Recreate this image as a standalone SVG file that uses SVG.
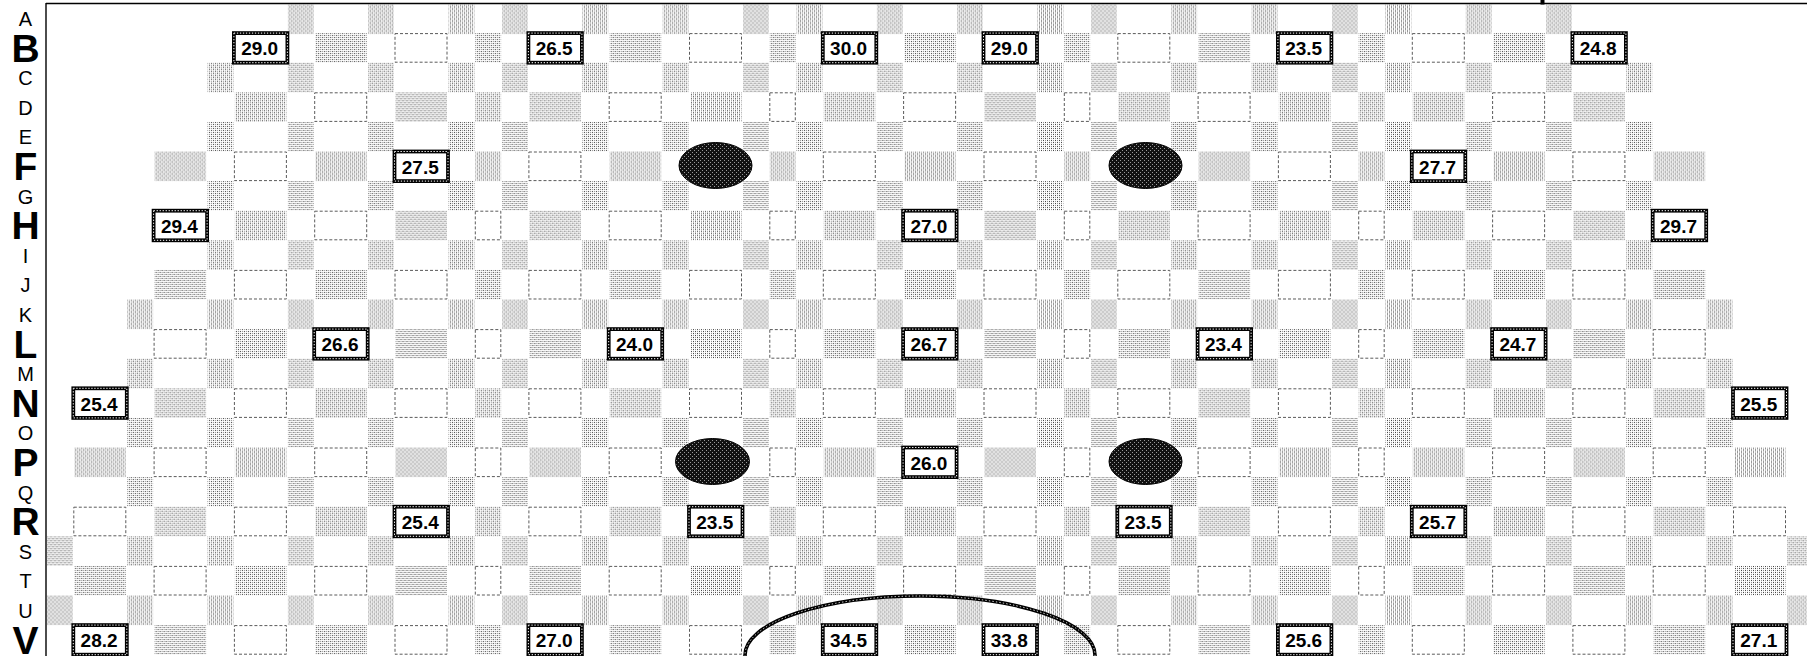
<svg xmlns="http://www.w3.org/2000/svg" xmlns:xlink="http://www.w3.org/1999/xlink" width="1807" height="656" viewBox="0 0 1807 656">
<style>
.dash{fill:none;stroke:#5a5a5a;stroke-width:1;stroke-dasharray:3 2}
.lbl rect{fill:#fff;stroke:#000;stroke-width:3.8}
.lbl rect.lw{fill:none;stroke:#fff;stroke-width:1;stroke-dasharray:1.3 1.7}
.lbl text{font-family:"Liberation Sans",Arial,sans-serif;font-weight:bold;font-size:19px;text-anchor:middle;fill:#000}
.rl{font-family:"Liberation Sans",Arial,sans-serif;font-size:20px;text-anchor:middle;fill:#000}
.rb{font-family:"Liberation Sans",Arial,sans-serif;font-size:39px;font-weight:bold;text-anchor:middle;fill:#000}
.blob{fill:url(#dk);stroke:#000;stroke-width:1}
</style>
<defs>
<pattern id="dots" width="4" height="4" patternUnits="userSpaceOnUse"><rect width="4" height="4" fill="#fff"/><rect width="1" height="1" fill="#333"/><rect x="2" y="2" width="1" height="1" fill="#333"/><rect x="2" width="1" height="1" fill="#888"/><rect y="2" width="1" height="1" fill="#888"/></pattern>
<pattern id="dk" width="4" height="4" patternUnits="userSpaceOnUse"><rect width="4" height="4" fill="#111"/><rect width="1" height="1" fill="#999"/><rect x="2" y="2" width="1" height="1" fill="#999"/></pattern>
<rect id="wg" x="1" y="0" width="51.5" height="29.6" fill="url(#dots)"/>
<rect id="ng" x="0.5" y="0" width="25.8" height="29.6" fill="url(#dots)"/>
<rect id="wd" class="dash" x="0.5" y="0.5" width="52" height="28.6"/>
<rect id="nd" class="dash" x="0.5" y="0.5" width="25.5" height="28.6"/>
<g id="oc"><use href="#ng" x="287.4"/><use href="#ng" x="367.7"/><use href="#ng" x="448.1"/><use href="#ng" x="501.6"/><use href="#ng" x="581.9"/><use href="#ng" x="662.2"/><use href="#ng" x="742.5"/><use href="#ng" x="796.1"/><use href="#ng" x="876.4"/><use href="#ng" x="956.7"/><use href="#ng" x="1037"/><use href="#ng" x="1090.5"/><use href="#ng" x="1170.8"/><use href="#ng" x="1251.2"/><use href="#ng" x="1331.5"/><use href="#ng" x="1385"/><use href="#ng" x="1465.3"/><use href="#ng" x="1545.6"/></g>
<g id="o6"><use href="#ng" x="207.1"/><use href="#ng" x="1625.9"/></g>
<g id="o3"><use href="#ng" x="126.8"/><use href="#ng" x="1706.2"/></g>
<g id="o0"><use href="#ng" x="46.5"/><use href="#ng" x="1786.6"/></g>
</defs>
<rect width="1807" height="656" fill="#fff"/>

<g id="odd-rows">
<use href="#oc" y="4.5"/>
<use href="#oc" y="62.7"/><use href="#o6" y="62.7"/>
<use href="#oc" y="121.9"/><use href="#o6" y="121.9"/>
<use href="#oc" y="181.1"/><use href="#o6" y="181.1"/>
<use href="#oc" y="240.3"/><use href="#o6" y="240.3"/>
<use href="#oc" y="299.5"/><use href="#o6" y="299.5"/><use href="#o3" y="299.5"/>
<use href="#oc" y="358.7"/><use href="#o6" y="358.7"/><use href="#o3" y="358.7"/>
<use href="#oc" y="417.9"/><use href="#o6" y="417.9"/><use href="#o3" y="417.9"/>
<use href="#oc" y="477.1"/><use href="#o6" y="477.1"/><use href="#o3" y="477.1"/>
<use href="#oc" y="536.3"/><use href="#o6" y="536.3"/><use href="#o3" y="536.3"/><use href="#o0" y="536.3"/>
<use href="#oc" y="595.5"/><use href="#o6" y="595.5"/><use href="#o3" y="595.5"/><use href="#o0" y="595.5"/>
</g>

<g id="row-B">
<use href="#wg" x="314.2" y="33.1"/><use href="#wd" x="394.5" y="33.1"/><use href="#ng" x="474.8" y="33.1"/><use href="#wg" x="608.7" y="33.1"/><use href="#wd" x="689" y="33.1"/><use href="#ng" x="769.3" y="33.1"/><use href="#wg" x="903.1" y="33.1"/><use href="#ng" x="1063.8" y="33.1"/><use href="#wd" x="1117.3" y="33.1"/><use href="#wg" x="1197.6" y="33.1"/><use href="#ng" x="1358.2" y="33.1"/><use href="#wd" x="1411.8" y="33.1"/><use href="#wg" x="1492.1" y="33.1"/>
<g id="lbl-B7" class="lbl"><rect x="233.9" y="33.1" width="53.5" height="29.6"/><rect class="lw" x="233.9" y="33.1" width="53.5" height="29.6"/><text x="259.7" y="55.3">29.0</text></g>
<g id="lbl-B18" class="lbl"><rect x="528.4" y="33.1" width="53.5" height="29.6"/><rect class="lw" x="528.4" y="33.1" width="53.5" height="29.6"/><text x="554.2" y="55.3">26.5</text></g>
<g id="lbl-B29" class="lbl"><rect x="822.8" y="33.1" width="53.5" height="29.6"/><rect class="lw" x="822.8" y="33.1" width="53.5" height="29.6"/><text x="848.6" y="55.3">30.0</text></g>
<g id="lbl-B35" class="lbl"><rect x="983.5" y="33.1" width="53.5" height="29.6"/><rect class="lw" x="983.5" y="33.1" width="53.5" height="29.6"/><text x="1009.3" y="55.3">29.0</text></g>
<g id="lbl-B46" class="lbl"><rect x="1277.9" y="33.1" width="53.5" height="29.6"/><rect class="lw" x="1277.9" y="33.1" width="53.5" height="29.6"/><text x="1303.7" y="55.3">23.5</text></g>
<g id="lbl-B57" class="lbl"><rect x="1572.4" y="33.1" width="53.5" height="29.6"/><rect class="lw" x="1572.4" y="33.1" width="53.5" height="29.6"/><text x="1598.2" y="55.3">24.8</text></g>
</g>

<g id="row-D">
<use href="#wg" x="233.9" y="92.3"/><use href="#wd" x="314.2" y="92.3"/><use href="#wg" x="394.5" y="92.3"/><use href="#ng" x="474.8" y="92.3"/><use href="#wg" x="528.4" y="92.3"/><use href="#wd" x="608.7" y="92.3"/><use href="#wg" x="689" y="92.3"/><use href="#nd" x="769.3" y="92.3"/><use href="#wg" x="822.8" y="92.3"/><use href="#wd" x="903.1" y="92.3"/><use href="#wg" x="983.5" y="92.3"/><use href="#nd" x="1063.8" y="92.3"/><use href="#wg" x="1117.3" y="92.3"/><use href="#wd" x="1197.6" y="92.3"/><use href="#wg" x="1277.9" y="92.3"/><use href="#ng" x="1358.2" y="92.3"/><use href="#wg" x="1411.8" y="92.3"/><use href="#wd" x="1492.1" y="92.3"/><use href="#wg" x="1572.4" y="92.3"/>
</g>

<g id="row-F">
<use href="#wg" x="153.6" y="151.5"/><use href="#wd" x="233.9" y="151.5"/><use href="#wg" x="314.2" y="151.5"/><use href="#ng" x="474.8" y="151.5"/><use href="#wd" x="528.4" y="151.5"/><use href="#wg" x="608.7" y="151.5"/><use href="#ng" x="769.3" y="151.5"/><use href="#wd" x="822.8" y="151.5"/><use href="#wg" x="903.1" y="151.5"/><use href="#wd" x="983.5" y="151.5"/><use href="#ng" x="1063.8" y="151.5"/><use href="#wg" x="1197.6" y="151.5"/><use href="#wd" x="1277.9" y="151.5"/><use href="#ng" x="1358.2" y="151.5"/><use href="#wg" x="1492.1" y="151.5"/><use href="#wd" x="1572.4" y="151.5"/><use href="#wg" x="1652.7" y="151.5"/>
<g id="lbl-F13" class="lbl"><rect x="394.5" y="151.5" width="53.5" height="29.6"/><rect class="lw" x="394.5" y="151.5" width="53.5" height="29.6"/><text x="420.3" y="173.7">27.5</text></g>
<g id="lbl-F51" class="lbl"><rect x="1411.8" y="151.5" width="53.5" height="29.6"/><rect class="lw" x="1411.8" y="151.5" width="53.5" height="29.6"/><text x="1437.6" y="173.7">27.7</text></g>
</g>

<g id="row-H">
<use href="#wg" x="233.9" y="210.7"/><use href="#wd" x="314.2" y="210.7"/><use href="#wg" x="394.5" y="210.7"/><use href="#nd" x="474.8" y="210.7"/><use href="#wg" x="528.4" y="210.7"/><use href="#wd" x="608.7" y="210.7"/><use href="#wg" x="689" y="210.7"/><use href="#nd" x="769.3" y="210.7"/><use href="#wg" x="822.8" y="210.7"/><use href="#wg" x="983.5" y="210.7"/><use href="#nd" x="1063.8" y="210.7"/><use href="#wg" x="1117.3" y="210.7"/><use href="#wd" x="1197.6" y="210.7"/><use href="#wg" x="1277.9" y="210.7"/><use href="#nd" x="1358.2" y="210.7"/><use href="#wg" x="1411.8" y="210.7"/><use href="#wd" x="1492.1" y="210.7"/><use href="#wg" x="1572.4" y="210.7"/>
<g id="lbl-H4" class="lbl"><rect x="153.6" y="210.7" width="53.5" height="29.6"/><rect class="lw" x="153.6" y="210.7" width="53.5" height="29.6"/><text x="179.4" y="232.9">29.4</text></g>
<g id="lbl-H32" class="lbl"><rect x="903.1" y="210.7" width="53.5" height="29.6"/><rect class="lw" x="903.1" y="210.7" width="53.5" height="29.6"/><text x="928.9" y="232.9">27.0</text></g>
<g id="lbl-H60" class="lbl"><rect x="1652.7" y="210.7" width="53.5" height="29.6"/><rect class="lw" x="1652.7" y="210.7" width="53.5" height="29.6"/><text x="1678.5" y="232.9">29.7</text></g>
</g>

<g id="row-J">
<use href="#wg" x="153.6" y="269.9"/><use href="#wd" x="233.9" y="269.9"/><use href="#wg" x="314.2" y="269.9"/><use href="#wd" x="394.5" y="269.9"/><use href="#ng" x="474.8" y="269.9"/><use href="#wd" x="528.4" y="269.9"/><use href="#wg" x="608.7" y="269.9"/><use href="#wd" x="689" y="269.9"/><use href="#ng" x="769.3" y="269.9"/><use href="#wd" x="822.8" y="269.9"/><use href="#wg" x="903.1" y="269.9"/><use href="#wd" x="983.5" y="269.9"/><use href="#ng" x="1063.8" y="269.9"/><use href="#wd" x="1117.3" y="269.9"/><use href="#wg" x="1197.6" y="269.9"/><use href="#wd" x="1277.9" y="269.9"/><use href="#ng" x="1358.2" y="269.9"/><use href="#wd" x="1411.8" y="269.9"/><use href="#wg" x="1492.1" y="269.9"/><use href="#wd" x="1572.4" y="269.9"/><use href="#wg" x="1652.7" y="269.9"/>
</g>

<g id="row-L">
<use href="#wd" x="153.6" y="329.1"/><use href="#wg" x="233.9" y="329.1"/><use href="#wg" x="394.5" y="329.1"/><use href="#nd" x="474.8" y="329.1"/><use href="#wg" x="528.4" y="329.1"/><use href="#wg" x="689" y="329.1"/><use href="#nd" x="769.3" y="329.1"/><use href="#wg" x="822.8" y="329.1"/><use href="#wg" x="983.5" y="329.1"/><use href="#nd" x="1063.8" y="329.1"/><use href="#wg" x="1117.3" y="329.1"/><use href="#wg" x="1277.9" y="329.1"/><use href="#nd" x="1358.2" y="329.1"/><use href="#wg" x="1411.8" y="329.1"/><use href="#wg" x="1572.4" y="329.1"/><use href="#wd" x="1652.7" y="329.1"/>
<g id="lbl-L10" class="lbl"><rect x="314.2" y="329.1" width="53.5" height="29.6"/><rect class="lw" x="314.2" y="329.1" width="53.5" height="29.6"/><text x="340" y="351.3">26.6</text></g>
<g id="lbl-L21" class="lbl"><rect x="608.7" y="329.1" width="53.5" height="29.6"/><rect class="lw" x="608.7" y="329.1" width="53.5" height="29.6"/><text x="634.5" y="351.3">24.0</text></g>
<g id="lbl-L32" class="lbl"><rect x="903.1" y="329.1" width="53.5" height="29.6"/><rect class="lw" x="903.1" y="329.1" width="53.5" height="29.6"/><text x="928.9" y="351.3">26.7</text></g>
<g id="lbl-L43" class="lbl"><rect x="1197.6" y="329.1" width="53.5" height="29.6"/><rect class="lw" x="1197.6" y="329.1" width="53.5" height="29.6"/><text x="1223.4" y="351.3">23.4</text></g>
<g id="lbl-L54" class="lbl"><rect x="1492.1" y="329.1" width="53.5" height="29.6"/><rect class="lw" x="1492.1" y="329.1" width="53.5" height="29.6"/><text x="1517.9" y="351.3">24.7</text></g>
</g>

<g id="row-N">
<use href="#wg" x="153.6" y="388.3"/><use href="#wd" x="233.9" y="388.3"/><use href="#wg" x="314.2" y="388.3"/><use href="#wd" x="394.5" y="388.3"/><use href="#ng" x="474.8" y="388.3"/><use href="#wd" x="528.4" y="388.3"/><use href="#wg" x="608.7" y="388.3"/><use href="#wd" x="689" y="388.3"/><use href="#ng" x="769.3" y="388.3"/><use href="#wd" x="822.8" y="388.3"/><use href="#wg" x="903.1" y="388.3"/><use href="#wd" x="983.5" y="388.3"/><use href="#ng" x="1063.8" y="388.3"/><use href="#wd" x="1117.3" y="388.3"/><use href="#wg" x="1197.6" y="388.3"/><use href="#wd" x="1277.9" y="388.3"/><use href="#ng" x="1358.2" y="388.3"/><use href="#wd" x="1411.8" y="388.3"/><use href="#wg" x="1492.1" y="388.3"/><use href="#wd" x="1572.4" y="388.3"/><use href="#wg" x="1652.7" y="388.3"/>
<g id="lbl-N1" class="lbl"><rect x="73.3" y="388.3" width="53.5" height="29.6"/><rect class="lw" x="73.3" y="388.3" width="53.5" height="29.6"/><text x="99.1" y="410.5">25.4</text></g>
<g id="lbl-N63" class="lbl"><rect x="1733" y="388.3" width="53.5" height="29.6"/><rect class="lw" x="1733" y="388.3" width="53.5" height="29.6"/><text x="1758.8" y="410.5">25.5</text></g>
</g>

<g id="row-P">
<use href="#wg" x="73.3" y="447.5"/><use href="#wd" x="153.6" y="447.5"/><use href="#wg" x="233.9" y="447.5"/><use href="#wd" x="314.2" y="447.5"/><use href="#wg" x="394.5" y="447.5"/><use href="#nd" x="474.8" y="447.5"/><use href="#wg" x="528.4" y="447.5"/><use href="#wd" x="608.7" y="447.5"/><use href="#wg" x="689" y="447.5"/><use href="#nd" x="769.3" y="447.5"/><use href="#wg" x="822.8" y="447.5"/><use href="#wg" x="983.5" y="447.5"/><use href="#nd" x="1063.8" y="447.5"/><use href="#wg" x="1117.3" y="447.5"/><use href="#wd" x="1197.6" y="447.5"/><use href="#wg" x="1277.9" y="447.5"/><use href="#nd" x="1358.2" y="447.5"/><use href="#wg" x="1411.8" y="447.5"/><use href="#wd" x="1492.1" y="447.5"/><use href="#wg" x="1572.4" y="447.5"/><use href="#wd" x="1652.7" y="447.5"/><use href="#wg" x="1733" y="447.5"/>
<g id="lbl-P32" class="lbl"><rect x="903.1" y="447.5" width="53.5" height="29.6"/><rect class="lw" x="903.1" y="447.5" width="53.5" height="29.6"/><text x="928.9" y="469.7">26.0</text></g>
</g>

<g id="row-R">
<use href="#wd" x="73.3" y="506.7"/><use href="#wg" x="153.6" y="506.7"/><use href="#wd" x="233.9" y="506.7"/><use href="#wg" x="314.2" y="506.7"/><use href="#ng" x="474.8" y="506.7"/><use href="#wd" x="528.4" y="506.7"/><use href="#wg" x="608.7" y="506.7"/><use href="#ng" x="769.3" y="506.7"/><use href="#wd" x="822.8" y="506.7"/><use href="#wg" x="903.1" y="506.7"/><use href="#wd" x="983.5" y="506.7"/><use href="#ng" x="1063.8" y="506.7"/><use href="#wg" x="1197.6" y="506.7"/><use href="#wd" x="1277.9" y="506.7"/><use href="#ng" x="1358.2" y="506.7"/><use href="#wg" x="1492.1" y="506.7"/><use href="#wd" x="1572.4" y="506.7"/><use href="#wg" x="1652.7" y="506.7"/><use href="#wd" x="1733" y="506.7"/>
<g id="lbl-R13" class="lbl"><rect x="394.5" y="506.7" width="53.5" height="29.6"/><rect class="lw" x="394.5" y="506.7" width="53.5" height="29.6"/><text x="420.3" y="528.9">25.4</text></g>
<g id="lbl-R24" class="lbl"><rect x="689" y="506.7" width="53.5" height="29.6"/><rect class="lw" x="689" y="506.7" width="53.5" height="29.6"/><text x="714.8" y="528.9">23.5</text></g>
<g id="lbl-R40" class="lbl"><rect x="1117.3" y="506.7" width="53.5" height="29.6"/><rect class="lw" x="1117.3" y="506.7" width="53.5" height="29.6"/><text x="1143.1" y="528.9">23.5</text></g>
<g id="lbl-R51" class="lbl"><rect x="1411.8" y="506.7" width="53.5" height="29.6"/><rect class="lw" x="1411.8" y="506.7" width="53.5" height="29.6"/><text x="1437.6" y="528.9">25.7</text></g>
</g>

<g id="row-T">
<use href="#wg" x="73.3" y="565.9"/><use href="#wd" x="153.6" y="565.9"/><use href="#wg" x="233.9" y="565.9"/><use href="#wd" x="314.2" y="565.9"/><use href="#wg" x="394.5" y="565.9"/><use href="#nd" x="474.8" y="565.9"/><use href="#wg" x="528.4" y="565.9"/><use href="#wd" x="608.7" y="565.9"/><use href="#wg" x="689" y="565.9"/><use href="#nd" x="769.3" y="565.9"/><use href="#wg" x="822.8" y="565.9"/><use href="#wd" x="903.1" y="565.9"/><use href="#wg" x="983.5" y="565.9"/><use href="#nd" x="1063.8" y="565.9"/><use href="#wg" x="1117.3" y="565.9"/><use href="#wd" x="1197.6" y="565.9"/><use href="#wg" x="1277.9" y="565.9"/><use href="#nd" x="1358.2" y="565.9"/><use href="#wg" x="1411.8" y="565.9"/><use href="#wd" x="1492.1" y="565.9"/><use href="#wg" x="1572.4" y="565.9"/><use href="#wd" x="1652.7" y="565.9"/><use href="#wg" x="1733" y="565.9"/>
</g>

<g id="row-V">
<use href="#wg" x="153.6" y="625.1"/><use href="#wd" x="233.9" y="625.1"/><use href="#wg" x="314.2" y="625.1"/><use href="#wd" x="394.5" y="625.1"/><use href="#ng" x="474.8" y="625.1"/><use href="#wg" x="608.7" y="625.1"/><use href="#wd" x="689" y="625.1"/><use href="#ng" x="769.3" y="625.1"/><use href="#wg" x="903.1" y="625.1"/><use href="#ng" x="1063.8" y="625.1"/><use href="#wd" x="1117.3" y="625.1"/><use href="#wg" x="1197.6" y="625.1"/><use href="#ng" x="1358.2" y="625.1"/><use href="#wd" x="1411.8" y="625.1"/><use href="#wg" x="1492.1" y="625.1"/><use href="#wd" x="1572.4" y="625.1"/><use href="#wg" x="1652.7" y="625.1"/>
<g id="lbl-V1" class="lbl"><rect x="73.3" y="625.1" width="53.5" height="29.6"/><rect class="lw" x="73.3" y="625.1" width="53.5" height="29.6"/><text x="99.1" y="647.3">28.2</text></g>
<g id="lbl-V18" class="lbl"><rect x="528.4" y="625.1" width="53.5" height="29.6"/><rect class="lw" x="528.4" y="625.1" width="53.5" height="29.6"/><text x="554.2" y="647.3">27.0</text></g>
<g id="lbl-V29" class="lbl"><rect x="822.8" y="625.1" width="53.5" height="29.6"/><rect class="lw" x="822.8" y="625.1" width="53.5" height="29.6"/><text x="848.6" y="647.3">34.5</text></g>
<g id="lbl-V35" class="lbl"><rect x="983.5" y="625.1" width="53.5" height="29.6"/><rect class="lw" x="983.5" y="625.1" width="53.5" height="29.6"/><text x="1009.3" y="647.3">33.8</text></g>
<g id="lbl-V46" class="lbl"><rect x="1277.9" y="625.1" width="53.5" height="29.6"/><rect class="lw" x="1277.9" y="625.1" width="53.5" height="29.6"/><text x="1303.7" y="647.3">25.6</text></g>
<g id="lbl-V63" class="lbl"><rect x="1733" y="625.1" width="53.5" height="29.6"/><rect class="lw" x="1733" y="625.1" width="53.5" height="29.6"/><text x="1758.8" y="647.3">27.1</text></g>
</g>

<g id="blobs">
<ellipse id="blob-F1" class="blob" cx="715.5" cy="165.5" rx="36.5" ry="23"/>
<ellipse id="blob-F2" class="blob" cx="1145.5" cy="165.5" rx="36.5" ry="23"/>
<ellipse id="blob-P1" class="blob" cx="712.5" cy="461.5" rx="37" ry="23"/>
<ellipse id="blob-P2" class="blob" cx="1145.5" cy="461.5" rx="36.5" ry="23"/>
</g>

<g id="zone">
<ellipse cx="920" cy="655" rx="175" ry="59" fill="none" stroke="#000" stroke-width="3.6"/>
<ellipse cx="920" cy="655" rx="175" ry="59" fill="none" stroke="#fff" stroke-width="0.9" stroke-dasharray="1.3 2.2"/>
</g>

<g id="frame">
<line x1="46" y1="3.5" x2="1807" y2="3.5" stroke="#000" stroke-width="1.4"/>
<line x1="46" y1="3" x2="46" y2="656" stroke="#000" stroke-width="1.4"/>
<rect x="1540.5" y="0" width="4" height="4.5" fill="#000"/>
</g>

<g id="row-labels">
<text class="rl" x="25.5" y="26">A</text>
<text class="rb" x="25.5" y="61.7">B</text>
<text class="rl" x="25.5" y="85.2">C</text>
<text class="rl" x="25.5" y="114.8">D</text>
<text class="rl" x="25.5" y="144.4">E</text>
<text class="rb" x="25.5" y="180.1">F</text>
<text class="rl" x="25.5" y="203.6">G</text>
<text class="rb" x="25.5" y="239.3">H</text>
<text class="rl" x="25.5" y="262.8">I</text>
<text class="rl" x="25.5" y="292.4">J</text>
<text class="rl" x="25.5" y="322">K</text>
<text class="rb" x="25.5" y="357.7">L</text>
<text class="rl" x="25.5" y="381.2">M</text>
<text class="rb" x="25.5" y="416.9">N</text>
<text class="rl" x="25.5" y="440.4">O</text>
<text class="rb" x="25.5" y="476.1">P</text>
<text class="rl" x="25.5" y="499.6">Q</text>
<text class="rb" x="25.5" y="535.3">R</text>
<text class="rl" x="25.5" y="558.8">S</text>
<text class="rl" x="25.5" y="588.4">T</text>
<text class="rl" x="25.5" y="618">U</text>
<text class="rb" x="25.5" y="653.5">V</text>
</g>
</svg>
